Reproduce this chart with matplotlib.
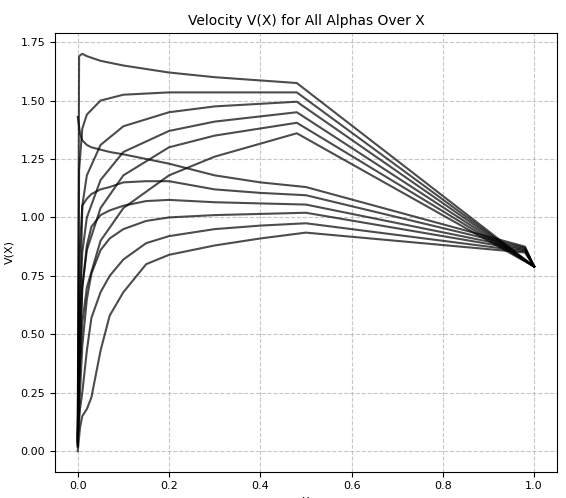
import numpy as np
import matplotlib.pyplot as plt

# each curve: x values and V(X) values
upper_x = [0, 0.003, 0.01, 0.02, 0.05, 0.1, 0.2, 0.3, 0.48, 1.0]
upper_v = [
    [0.02, 1.69, 1.70, 1.69, 1.67, 1.65, 1.62, 1.60, 1.575, 0.79],
    [0.03, 1.20, 1.38, 1.44, 1.50, 1.525, 1.535, 1.535, 1.535, 0.79],
    [0.04, 0.80, 1.05, 1.18, 1.31, 1.39, 1.45, 1.475, 1.495, 0.79],
    [0.05, 0.55, 0.85, 1.00, 1.16, 1.28, 1.37, 1.41, 1.45, 0.79],
    [0.06, 0.40, 0.70, 0.86, 1.04, 1.18, 1.30, 1.35, 1.405, 0.79],
    [0.07, 0.30, 0.55, 0.70, 0.90, 1.04, 1.18, 1.26, 1.36, 0.79],
]

lower_x = [0, 0.005, 0.01, 0.02, 0.03, 0.05, 0.07, 0.1, 0.15, 0.2, 0.3, 0.4, 0.5, 0.98, 1.0]
lower_v = [
    [1.43, 1.36, 1.33, 1.31, 1.30, 1.29, 1.28, 1.27, 1.25, 1.23, 1.18, 1.15, 1.13, 0.875, 0.79],
    [0.02, 0.60, 1.05, 1.08, 1.10, 1.12, 1.13, 1.15, 1.155, 1.155, 1.12, 1.105, 1.095, 0.87, 0.79],
    [0.03, 0.40, 0.70, 0.88, 0.96, 1.01, 1.03, 1.05, 1.07, 1.075, 1.065, 1.06, 1.055, 0.865, 0.79],
    [0.04, 0.25, 0.45, 0.65, 0.76, 0.86, 0.91, 0.95, 0.985, 1.00, 1.01, 1.015, 1.02, 0.86, 0.79],
    [0.05, 0.18, 0.25, 0.43, 0.57, 0.68, 0.75, 0.82, 0.89, 0.92, 0.95, 0.965, 0.975, 0.855, 0.79],
    [0.00, 0.10, 0.15, 0.18, 0.23, 0.43, 0.58, 0.68, 0.80, 0.84, 0.88, 0.91, 0.935, 0.85, 0.79],
]

fig = plt.figure(figsize=(5.66, 4.98), dpi=100)
ax = fig.add_axes([0.097, 0.053, 0.887, 0.88])

for v in upper_v:
    ax.plot(upper_x, v, color='black', alpha=0.7, linewidth=1.5)
for v in lower_v:
    ax.plot(lower_x, v, color='black', alpha=0.7, linewidth=1.5)

ax.set_xlim(-0.05, 1.05)
ax.set_ylim(-0.0875, 1.7875)
ax.set_yticks(np.arange(0, 1.76, 0.25))
ax.tick_params(labelsize=8)
ax.set_title("Velocity V(X) for All Alphas Over X", fontsize=10)
ax.set_xlabel("X", fontsize=8)
ax.set_ylabel("V(X)", fontsize=8)
ax.grid(True, linestyle='--', alpha=0.7)

fig.savefig("out.png", dpi=100)
